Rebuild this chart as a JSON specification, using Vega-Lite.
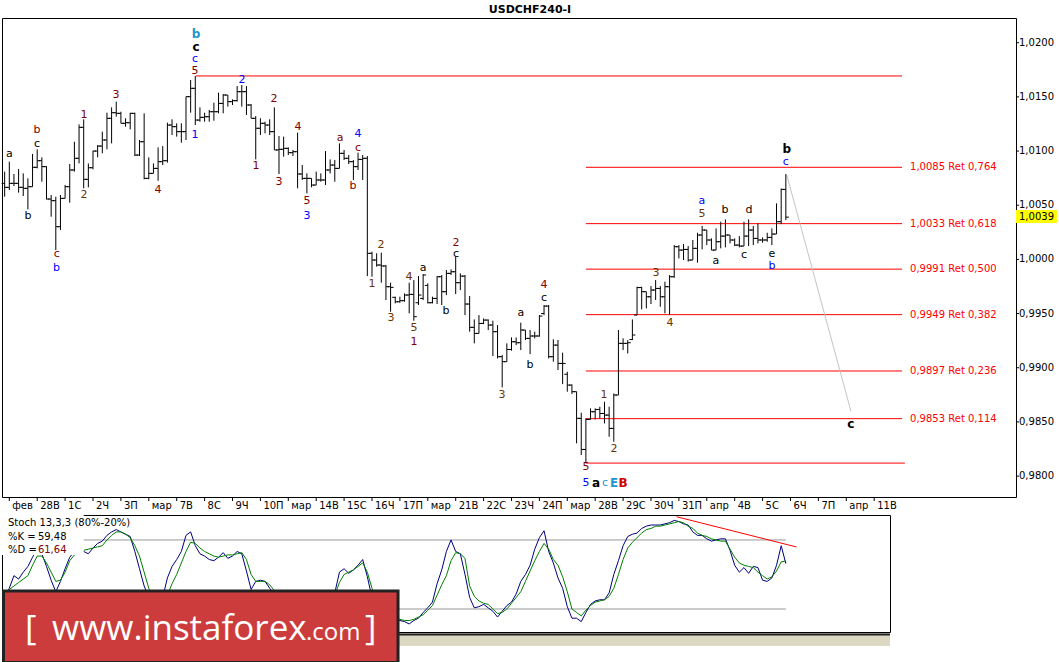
{
"$schema": "https://vega.github.io/schema/vega-lite/v6.json",
"background": "white",
"padding": {"left": 0, "top": 3, "right": 0, "bottom": 0},
"bounds": "flush",
"spacing": 18,
"config": {"view": {"stroke": "black", "strokeWidth": 1}, "font": "DejaVu Sans", "text": {"font": "DejaVu Sans"}},
"datasets": {
"bars": [
{"i":-1,"o":1.00702,"h":1.00810,"l":1.00579,"c":1.00665},
{"i":0,"o":1.00665,"h":1.00902,"l":1.00640,"c":1.00702},
{"i":1,"o":1.00702,"h":1.00788,"l":1.00677,"c":1.00702},
{"i":2,"o":1.00702,"h":1.00834,"l":1.00616,"c":1.00665},
{"i":3,"o":1.00665,"h":1.00794,"l":1.00585,"c":1.00656},
{"i":4,"o":1.00656,"h":1.00748,"l":1.00462,"c":1.00671},
{"i":5,"o":1.00671,"h":1.00973,"l":1.00671,"c":1.00850},
{"i":6,"o":1.00850,"h":1.01016,"l":1.00840,"c":1.00911},
{"i":7,"o":1.00911,"h":1.00942,"l":1.00717,"c":1.00856},
{"i":8,"o":1.00856,"h":1.00860,"l":1.00554,"c":1.00557},
{"i":9,"o":1.00557,"h":1.00594,"l":1.00394,"c":1.00542},
{"i":10,"o":1.00542,"h":1.00579,"l":1.00086,"c":1.00302},
{"i":11,"o":1.00302,"h":1.00594,"l":1.00271,"c":1.00563},
{"i":12,"o":1.00563,"h":1.00686,"l":1.00563,"c":1.00671},
{"i":13,"o":1.00671,"h":1.00880,"l":1.00523,"c":1.00825},
{"i":14,"o":1.00825,"h":1.01086,"l":1.00810,"c":1.00933},
{"i":15,"o":1.00933,"h":1.01246,"l":1.00886,"c":1.01219},
{"i":16,"o":1.01219,"h":1.01293,"l":1.00656,"c":1.00739},
{"i":17,"o":1.00739,"h":1.00886,"l":1.00665,"c":1.00846},
{"i":18,"o":1.00846,"h":1.01003,"l":1.00831,"c":1.01000},
{"i":19,"o":1.01000,"h":1.01056,"l":1.00942,"c":1.01046},
{"i":20,"o":1.01046,"h":1.01179,"l":1.00979,"c":1.01102},
{"i":21,"o":1.01102,"h":1.01354,"l":1.01016,"c":1.01302},
{"i":22,"o":1.01302,"h":1.01403,"l":1.01071,"c":1.01354},
{"i":23,"o":1.01354,"h":1.01456,"l":1.01317,"c":1.01348},
{"i":24,"o":1.01348,"h":1.01363,"l":1.01256,"c":1.01256},
{"i":25,"o":1.01256,"h":1.01302,"l":1.01225,"c":1.01262},
{"i":26,"o":1.01262,"h":1.01354,"l":1.01200,"c":1.01348},
{"i":27,"o":1.01348,"h":1.01354,"l":1.00954,"c":1.00963},
{"i":28,"o":1.00963,"h":1.01102,"l":1.00954,"c":1.01086},
{"i":29,"o":1.01086,"h":1.01348,"l":1.00739,"c":1.00748},
{"i":30,"o":1.00748,"h":1.00942,"l":1.00740,"c":1.00794},
{"i":31,"o":1.00794,"h":1.00886,"l":1.00794,"c":1.00840},
{"i":32,"o":1.00840,"h":1.01034,"l":1.00726,"c":1.00902},
{"i":33,"o":1.00902,"h":1.01046,"l":1.00871,"c":1.00911},
{"i":34,"o":1.00911,"h":1.01262,"l":1.00893,"c":1.01240},
{"i":35,"o":1.01240,"h":1.01293,"l":1.01148,"c":1.01225},
{"i":36,"o":1.01225,"h":1.01256,"l":1.01133,"c":1.01179},
{"i":37,"o":1.01179,"h":1.01256,"l":1.01077,"c":1.01179},
{"i":38,"o":1.01179,"h":1.01502,"l":1.01102,"c":1.01502},
{"i":39,"o":1.01502,"h":1.01656,"l":1.01354,"c":1.01579},
{"i":40,"o":1.01579,"h":1.01693,"l":1.01240,"c":1.01286},
{"i":41,"o":1.01286,"h":1.01403,"l":1.01271,"c":1.01311},
{"i":42,"o":1.01311,"h":1.01354,"l":1.01271,"c":1.01317},
{"i":43,"o":1.01317,"h":1.01379,"l":1.01271,"c":1.01363},
{"i":44,"o":1.01363,"h":1.01446,"l":1.01280,"c":1.01363},
{"i":45,"o":1.01363,"h":1.01539,"l":1.01348,"c":1.01440},
{"i":46,"o":1.01440,"h":1.01526,"l":1.01348,"c":1.01517},
{"i":47,"o":1.01517,"h":1.01517,"l":1.01410,"c":1.01456},
{"i":48,"o":1.01456,"h":1.01477,"l":1.01425,"c":1.01465},
{"i":49,"o":1.01465,"h":1.01600,"l":1.01456,"c":1.01548},
{"i":50,"o":1.01548,"h":1.01610,"l":1.01410,"c":1.01548},
{"i":51,"o":1.01548,"h":1.01600,"l":1.01333,"c":1.01425},
{"i":52,"o":1.01425,"h":1.01434,"l":1.01302,"c":1.01302},
{"i":53,"o":1.01302,"h":1.01323,"l":1.00923,"c":1.01210},
{"i":54,"o":1.01210,"h":1.01302,"l":1.01148,"c":1.01256},
{"i":55,"o":1.01256,"h":1.01271,"l":1.01163,"c":1.01240},
{"i":56,"o":1.01240,"h":1.01293,"l":1.01148,"c":1.01179},
{"i":57,"o":1.01179,"h":1.01403,"l":1.01010,"c":1.01010},
{"i":58,"o":1.01010,"h":1.01139,"l":1.00788,"c":1.01016},
{"i":59,"o":1.01016,"h":1.01133,"l":1.00948,"c":1.01025},
{"i":60,"o":1.01025,"h":1.01034,"l":1.00963,"c":1.00985},
{"i":61,"o":1.00985,"h":1.01010,"l":1.00954,"c":1.00994},
{"i":62,"o":1.00994,"h":1.01170,"l":1.00656,"c":1.00788},
{"i":63,"o":1.00788,"h":1.00871,"l":1.00733,"c":1.00748},
{"i":64,"o":1.00748,"h":1.00794,"l":1.00610,"c":1.00748},
{"i":65,"o":1.00748,"h":1.00748,"l":1.00665,"c":1.00686},
{"i":66,"o":1.00686,"h":1.00810,"l":1.00686,"c":1.00733},
{"i":67,"o":1.00733,"h":1.00794,"l":1.00717,"c":1.00733},
{"i":68,"o":1.00733,"h":1.01000,"l":1.00686,"c":1.00825},
{"i":69,"o":1.00825,"h":1.00923,"l":1.00794,"c":1.00871},
{"i":70,"o":1.00871,"h":1.00917,"l":1.00717,"c":1.00840},
{"i":71,"o":1.00840,"h":1.01071,"l":1.00840,"c":1.00979},
{"i":72,"o":1.00979,"h":1.01010,"l":1.00917,"c":1.00933},
{"i":73,"o":1.00933,"h":1.00963,"l":1.00880,"c":1.00902},
{"i":74,"o":1.00902,"h":1.00917,"l":1.00733,"c":1.00856},
{"i":75,"o":1.00856,"h":1.00985,"l":1.00825,"c":1.00923},
{"i":76,"o":1.00923,"h":1.00963,"l":1.00733,"c":1.00933},
{"i":77,"o":1.00933,"h":1.00954,"l":0.99846,"c":1.00056},
{"i":78,"o":1.00056,"h":1.00071,"l":0.99840,"c":0.99994},
{"i":79,"o":0.99994,"h":1.00056,"l":0.99933,"c":0.99948},
{"i":80,"o":0.99948,"h":1.00062,"l":0.99785,"c":0.99939},
{"i":81,"o":0.99939,"h":0.99948,"l":0.99625,"c":0.99748},
{"i":82,"o":0.99748,"h":0.99785,"l":0.99517,"c":0.99742},
{"i":83,"o":0.99650,"h":0.99656,"l":0.99594,"c":0.99609},
{"i":84,"o":0.99609,"h":0.99656,"l":0.99600,"c":0.99619},
{"i":85,"o":0.99619,"h":0.99686,"l":0.99609,"c":0.99671},
{"i":86,"o":0.99671,"h":0.99785,"l":0.99502,"c":0.99677},
{"i":87,"o":0.99677,"h":0.99809,"l":0.99434,"c":0.99471},
{"i":88,"o":0.99600,"h":0.99846,"l":0.99579,"c":0.99671},
{"i":89,"o":0.99640,"h":0.99865,"l":0.99625,"c":0.99856},
{"i":90,"o":0.99760,"h":0.99779,"l":0.99594,"c":0.99600},
{"i":91,"o":0.99600,"h":0.99656,"l":0.99594,"c":0.99640},
{"i":92,"o":0.99640,"h":0.99846,"l":0.99588,"c":0.99840},
{"i":93,"o":0.99840,"h":0.99856,"l":0.99579,"c":0.99702},
{"i":94,"o":0.99702,"h":0.99902,"l":0.99671,"c":0.99871},
{"i":95,"o":0.99871,"h":0.99908,"l":0.99856,"c":0.99886},
{"i":96,"o":0.99886,"h":1.00025,"l":0.99680,"c":0.99785},
{"i":97,"o":0.99785,"h":0.99871,"l":0.99717,"c":0.99846},
{"i":98,"o":0.99846,"h":0.99856,"l":0.99486,"c":0.99588},
{"i":99,"o":0.99588,"h":0.99662,"l":0.99333,"c":0.99373},
{"i":100,"o":0.99373,"h":0.99446,"l":0.99225,"c":0.99317},
{"i":101,"o":0.99317,"h":0.99486,"l":0.99317,"c":0.99409},
{"i":102,"o":0.99409,"h":0.99455,"l":0.99403,"c":0.99440},
{"i":103,"o":0.99440,"h":0.99446,"l":0.99348,"c":0.99394},
{"i":104,"o":0.99394,"h":0.99434,"l":0.99108,"c":0.99333},
{"i":105,"o":0.99333,"h":0.99394,"l":0.99086,"c":0.99102},
{"i":106,"o":0.99102,"h":0.99117,"l":0.98819,"c":0.99056},
{"i":107,"o":0.99056,"h":0.99225,"l":0.99056,"c":0.99169},
{"i":108,"o":0.99169,"h":0.99280,"l":0.99157,"c":0.99240},
{"i":109,"o":0.99240,"h":0.99280,"l":0.99209,"c":0.99231},
{"i":110,"o":0.99231,"h":0.99416,"l":0.99163,"c":0.99348},
{"i":111,"o":0.99348,"h":0.99348,"l":0.99256,"c":0.99271},
{"i":112,"o":0.99271,"h":0.99348,"l":0.99126,"c":0.99293},
{"i":113,"o":0.99293,"h":0.99333,"l":0.99271,"c":0.99293},
{"i":114,"o":0.99293,"h":0.99486,"l":0.99286,"c":0.99477},
{"i":115,"o":0.99500,"h":0.99579,"l":0.99486,"c":0.99569},
{"i":116,"o":0.99569,"h":0.99579,"l":0.99086,"c":0.99102},
{"i":117,"o":0.99102,"h":0.99262,"l":0.99056,"c":0.99209},
{"i":118,"o":0.99209,"h":0.99256,"l":0.98979,"c":0.99040},
{"i":119,"o":0.99040,"h":0.99139,"l":0.98849,"c":0.99040},
{"i":120,"o":0.98940,"h":0.98963,"l":0.98779,"c":0.98840},
{"i":121,"o":0.98840,"h":0.98846,"l":0.98757,"c":0.98779},
{"i":122,"o":0.98779,"h":0.98779,"l":0.98302,"c":0.98533},
{"i":123,"o":0.98533,"h":0.98585,"l":0.98194,"c":0.98246},
{"i":124,"o":0.98246,"h":0.98533,"l":0.98120,"c":0.98523},
{"i":125,"o":0.98523,"h":0.98625,"l":0.98523,"c":0.98594},
{"i":126,"o":0.98594,"h":0.98625,"l":0.98523,"c":0.98615},
{"i":127,"o":0.98615,"h":0.98640,"l":0.98532,"c":0.98578},
{"i":128,"o":0.98578,"h":0.98686,"l":0.98486,"c":0.98563},
{"i":129,"o":0.98563,"h":0.98640,"l":0.98363,"c":0.98440},
{"i":130,"o":0.98440,"h":0.98763,"l":0.98317,"c":0.98748},
{"i":131,"o":0.98748,"h":0.99348,"l":0.98748,"c":0.99225},
{"i":132,"o":0.99225,"h":0.99271,"l":0.99163,"c":0.99225},
{"i":133,"o":0.99225,"h":0.99255,"l":0.99132,"c":0.99231},
{"i":134,"o":0.99260,"h":0.99446,"l":0.99255,"c":0.99302},
{"i":135,"o":0.99486,"h":0.99748,"l":0.99486,"c":0.99740},
{"i":136,"o":0.99740,"h":0.99748,"l":0.99539,"c":0.99702},
{"i":137,"o":0.99702,"h":0.99702,"l":0.99548,"c":0.99655},
{"i":138,"o":0.99655,"h":0.99754,"l":0.99588,"c":0.99717},
{"i":139,"o":0.99717,"h":0.99809,"l":0.99625,"c":0.99732},
{"i":140,"o":0.99732,"h":0.99754,"l":0.99563,"c":0.99655},
{"i":141,"o":0.99655,"h":0.99794,"l":0.99502,"c":0.99748},
{"i":142,"o":0.99748,"h":0.99855,"l":0.99486,"c":0.99840},
{"i":143,"o":0.99840,"h":1.00132,"l":0.99830,"c":1.00117},
{"i":144,"o":1.00117,"h":1.00132,"l":1.00009,"c":1.00086},
{"i":145,"o":1.00086,"h":1.00142,"l":0.99994,"c":1.00092},
{"i":146,"o":1.00092,"h":1.00123,"l":0.99979,"c":0.99994},
{"i":147,"o":0.99994,"h":1.00179,"l":0.99994,"c":1.00102},
{"i":148,"o":1.00102,"h":1.00246,"l":0.99969,"c":1.00225},
{"i":149,"o":1.00225,"h":1.00308,"l":1.00092,"c":1.00271},
{"i":150,"o":1.00271,"h":1.00271,"l":1.00132,"c":1.00179},
{"i":151,"o":1.00179,"h":1.00194,"l":1.00086,"c":1.00086},
{"i":152,"o":1.00086,"h":1.00286,"l":1.00086,"c":1.00163},
{"i":153,"o":1.00163,"h":1.00348,"l":1.00102,"c":1.00215},
{"i":154,"o":1.00215,"h":1.00369,"l":1.00111,"c":1.00225},
{"i":155,"o":1.00225,"h":1.00225,"l":1.00148,"c":1.00179},
{"i":156,"o":1.00179,"h":1.00194,"l":1.00123,"c":1.00132},
{"i":157,"o":1.00132,"h":1.00215,"l":1.00111,"c":1.00123},
{"i":158,"o":1.00123,"h":1.00348,"l":1.00123,"c":1.00215},
{"i":159,"o":1.00215,"h":1.00369,"l":1.00123,"c":1.00271},
{"i":160,"o":1.00271,"h":1.00308,"l":1.00132,"c":1.00194},
{"i":161,"o":1.00194,"h":1.00332,"l":1.00148,"c":1.00179},
{"i":162,"o":1.00179,"h":1.00203,"l":1.00154,"c":1.00179},
{"i":163,"o":1.00179,"h":1.00246,"l":1.00163,"c":1.00203},
{"i":164,"o":1.00203,"h":1.00286,"l":1.00132,"c":1.00234},
{"i":165,"o":1.00234,"h":1.00517,"l":1.00234,"c":1.00348},
{"i":166,"o":1.00348,"h":1.00655,"l":1.00326,"c":1.00646},
{"i":167,"o":1.00646,"h":1.00788,"l":1.00363,"c":1.00390}
],
"stoch": [
{"i":-1,"k":30,"d":28},{"i":0,"k":38,"d":37},{"i":1,"k":49,"d":40},{"i":2,"k":46,"d":43},{"i":3,"k":52,"d":46},{"i":4,"k":57,"d":49},{"i":5,"k":65,"d":58},{"i":6,"k":72,"d":66},{"i":7,"k":68,"d":66},{"i":8,"k":57,"d":60},{"i":9,"k":45,"d":52},{"i":10,"k":35,"d":44},{"i":11,"k":44,"d":45},{"i":12,"k":55,"d":52},{"i":13,"k":65,"d":62},{"i":14,"k":70,"d":67},{"i":15,"k":74,"d":70},{"i":16,"k":70,"d":71},{"i":17,"k":68,"d":72},{"i":18,"k":73,"d":73},{"i":19,"k":77,"d":74},{"i":20,"k":79,"d":75},{"i":21,"k":84,"d":80},{"i":22,"k":87,"d":84},{"i":23,"k":89,"d":87},{"i":24,"k":87,"d":87},{"i":25,"k":85,"d":85},{"i":26,"k":83,"d":82},{"i":27,"k":70,"d":75},{"i":28,"k":55,"d":66},{"i":29,"k":40,"d":52},{"i":30,"k":30,"d":38},{"i":31,"k":18,"d":28},{"i":32,"k":15,"d":20},{"i":33,"k":30,"d":22},{"i":34,"k":47,"d":32},{"i":35,"k":57,"d":42},{"i":36,"k":63,"d":50},{"i":37,"k":70,"d":60},{"i":38,"k":84,"d":70},{"i":39,"k":87,"d":78},{"i":40,"k":75,"d":77},{"i":41,"k":68,"d":73},{"i":42,"k":66,"d":70},{"i":43,"k":63,"d":68},{"i":44,"k":62,"d":66},{"i":45,"k":65,"d":65},{"i":46,"k":69,"d":66},{"i":47,"k":64,"d":67},{"i":48,"k":66,"d":67},{"i":49,"k":70,"d":68},{"i":50,"k":68,"d":69},{"i":51,"k":53,"d":63},{"i":52,"k":37,"d":50},{"i":53,"k":44,"d":44},{"i":54,"k":45,"d":44},{"i":55,"k":44,"d":44},{"i":56,"k":38,"d":41},{"i":57,"k":33,"d":36},{"i":58,"k":25,"d":30},{"i":59,"k":18,"d":24},{"i":60,"k":14,"d":19},{"i":61,"k":12,"d":15},{"i":62,"k":10,"d":13},{"i":63,"k":8,"d":11},{"i":64,"k":7,"d":10},{"i":65,"k":10,"d":10},{"i":66,"k":14,"d":12},{"i":67,"k":18,"d":15},{"i":68,"k":24,"d":19},{"i":69,"k":30,"d":25},{"i":70,"k":34,"d":32},{"i":71,"k":52,"d":43},{"i":72,"k":55,"d":50},{"i":73,"k":51,"d":52},{"i":74,"k":54,"d":54},{"i":75,"k":58,"d":57},{"i":76,"k":63,"d":60},{"i":77,"k":48,"d":52},{"i":78,"k":30,"d":38},{"i":79,"k":18,"d":28},{"i":80,"k":12,"d":20},{"i":81,"k":9,"d":16},{"i":82,"k":8,"d":13},{"i":83,"k":10,"d":14},{"i":84,"k":10,"d":11},{"i":85,"k":9,"d":10},{"i":86,"k":7,"d":10},{"i":87,"k":10,"d":11},{"i":88,"k":12,"d":13},{"i":89,"k":17,"d":15},{"i":90,"k":21,"d":19},{"i":91,"k":26,"d":23},{"i":92,"k":42,"d":32},{"i":93,"k":54,"d":41},{"i":94,"k":70,"d":49},{"i":95,"k":80,"d":62},{"i":96,"k":70,"d":69},{"i":97,"k":68,"d":68},{"i":98,"k":50,"d":64},{"i":99,"k":30,"d":40},{"i":100,"k":21,"d":31},{"i":101,"k":22,"d":27},{"i":102,"k":24,"d":25},{"i":103,"k":21,"d":24},{"i":104,"k":18,"d":20},{"i":105,"k":13,"d":16},{"i":106,"k":18,"d":17},{"i":107,"k":23,"d":20},{"i":108,"k":26,"d":25},{"i":109,"k":33,"d":30},{"i":110,"k":44,"d":35},{"i":111,"k":50,"d":44},{"i":112,"k":58,"d":53},{"i":113,"k":72,"d":62},{"i":114,"k":82,"d":70},{"i":115,"k":88,"d":77},{"i":116,"k":70,"d":72},{"i":117,"k":60,"d":63},{"i":118,"k":47,"d":58},{"i":119,"k":38,"d":48},{"i":120,"k":22,"d":35},{"i":121,"k":12,"d":20},{"i":122,"k":12,"d":17},{"i":123,"k":9,"d":14},{"i":124,"k":17,"d":19},{"i":125,"k":24,"d":23},{"i":126,"k":27,"d":26},{"i":127,"k":28,"d":27},{"i":128,"k":28,"d":28},{"i":129,"k":34,"d":31},{"i":130,"k":50,"d":38},{"i":131,"k":62,"d":50},{"i":132,"k":75,"d":63},{"i":133,"k":83,"d":73},{"i":134,"k":85,"d":78},{"i":135,"k":86,"d":82},{"i":136,"k":90,"d":86},{"i":137,"k":92,"d":89},{"i":138,"k":93,"d":90},{"i":139,"k":93,"d":92},{"i":140,"k":93,"d":92},{"i":141,"k":94,"d":93},{"i":142,"k":95,"d":94},{"i":143,"k":97,"d":95},{"i":144,"k":96,"d":96},{"i":145,"k":94,"d":95},{"i":146,"k":93,"d":92},{"i":147,"k":87,"d":90},{"i":148,"k":84,"d":86},{"i":149,"k":84,"d":84},{"i":150,"k":81,"d":83},{"i":151,"k":79,"d":81},{"i":152,"k":80,"d":80},{"i":153,"k":81,"d":79},{"i":154,"k":81,"d":79},{"i":155,"k":71,"d":72},{"i":156,"k":58,"d":65},{"i":157,"k":52,"d":60},{"i":158,"k":56,"d":58},{"i":159,"k":51,"d":57},{"i":160,"k":57,"d":56},{"i":161,"k":56,"d":52},{"i":162,"k":45,"d":49},{"i":163,"k":44,"d":46},{"i":164,"k":47,"d":48},{"i":165,"k":58,"d":53},{"i":166,"k":75,"d":61},{"i":167,"k":59.48,"d":61.64}
],
"labels": [
{"i":0,"p":1.00973,"t":"a","g":"k"},
{"i":5.96,"p":1.01195,"t":"b","g":"m"},
{"i":5.96,"p":1.01064,"t":"c","g":"k"},
{"i":4.02,"p":1.004,"t":"b","g":"k"},
{"i":10.19,"p":1.0005,"t":"c","g":"m"},
{"i":10.15,"p":0.9992,"t":"b","g":"b"},
{"i":16.06,"p":1.01333,"t":"1","g":"m"},
{"i":16.06,"p":1.00594,"t":"2","g":"o"},
{"i":22.95,"p":1.01517,"t":"3","g":"m"},
{"i":31.98,"p":1.0064,"t":"4","g":"m"},
{"i":40.15,"p":1.02081,"t":"b","g":"lb","bold":true},
{"i":40.15,"p":1.01962,"t":"c","g":"k","bold":true},
{"i":39.94,"p":1.01852,"t":"c","g":"b"},
{"i":39.94,"p":1.01742,"t":"5","g":"m"},
{"i":39.94,"p":1.01148,"t":"1","g":"b"},
{"i":50.04,"p":1.01656,"t":"2","g":"b"},
{"i":56.92,"p":1.0148,"t":"2","g":"m"},
{"i":53.05,"p":1.00862,"t":"1","g":"m"},
{"i":58.0,"p":1.00714,"t":"3","g":"m"},
{"i":62.09,"p":1.01222,"t":"4","g":"m"},
{"i":64.02,"p":1.00535,"t":"5","g":"m"},
{"i":64.02,"p":1.00404,"t":"3","g":"b"},
{"i":71.12,"p":1.0112,"t":"a","g":"m"},
{"i":74.99,"p":1.01158,"t":"4","g":"b"},
{"i":74.99,"p":1.01028,"t":"c","g":"m"},
{"i":73.91,"p":1.00677,"t":"b","g":"m"},
{"i":79.93,"p":1.00133,"t":"2","g":"o"},
{"i":77.99,"p":0.99773,"t":"1","g":"o"},
{"i":82.09,"p":0.99459,"t":"3","g":"o"},
{"i":85.96,"p":0.99837,"t":"4","g":"o"},
{"i":87.04,"p":0.99363,"t":"5","g":"o"},
{"i":87.04,"p":0.99241,"t":"1","g":"m"},
{"i":88.97,"p":0.9992,"t":"a","g":"k"},
{"i":93.91,"p":0.99523,"t":"b","g":"k"},
{"i":96.06,"p":1.00151,"t":"2","g":"m"},
{"i":96.06,"p":1.0005,"t":"c","g":"k"},
{"i":110.04,"p":0.99505,"t":"a","g":"k"},
{"i":111.98,"p":0.99025,"t":"b","g":"k"},
{"i":114.99,"p":0.99764,"t":"4","g":"m"},
{"i":114.99,"p":0.99643,"t":"c","g":"k"},
{"i":105.95,"p":0.98748,"t":"3","g":"o"},
{"i":124.02,"p":0.98084,"t":"5","g":"m"},
{"i":124.02,"p":0.97936,"t":"5","g":"b"},
{"i":126.17,"p":0.97936,"t":"a","g":"k","bold":true},
{"i":128.11,"p":0.97936,"t":"c","g":"lb"},
{"i":130.04,"p":0.97936,"t":"E","g":"lb","bold":true},
{"i":131.98,"p":0.97936,"t":"B","g":"r","bold":true},
{"i":127.89,"p":0.98748,"t":"1","g":"o"},
{"i":130.04,"p":0.9825,"t":"2","g":"o"},
{"i":139.08,"p":0.99874,"t":"3","g":"o"},
{"i":142.09,"p":0.99413,"t":"4","g":"o"},
{"i":148.97,"p":1.00535,"t":"a","g":"b"},
{"i":148.97,"p":1.00422,"t":"5","g":"o"},
{"i":153.91,"p":1.00456,"t":"b","g":"k"},
{"i":159.07,"p":1.00456,"t":"d","g":"k"},
{"i":151.98,"p":0.99985,"t":"a","g":"k"},
{"i":158.0,"p":1.0004,"t":"c","g":"k"},
{"i":164.02,"p":1.0005,"t":"e","g":"k"},
{"i":164.02,"p":0.99935,"t":"b","g":"b"},
{"i":167.2,"p":1.0102,"t":"b","g":"k","bold":true},
{"i":167.0,"p":1.00899,"t":"c","g":"b"},
{"i":181.0,"p":0.98481,"t":"c","g":"k","bold":true}
],
"days": [
{"i":0,"t":"фев"},{"i":6,"t":"28В"},{"i":12,"t":"1С"},{"i":18,"t":"2Ч"},{"i":24,"t":"3П"},{"i":30,"t":"мар"},{"i":36,"t":"7В"},{"i":42,"t":"8С"},{"i":48,"t":"9Ч"},{"i":54,"t":"10П"},{"i":60,"t":"мар"},{"i":66,"t":"14В"},{"i":72,"t":"15С"},{"i":78,"t":"16Ч"},{"i":84,"t":"17П"},{"i":90,"t":"мар"},{"i":96,"t":"21В"},{"i":102,"t":"22С"},{"i":108,"t":"23Ч"},{"i":114,"t":"24П"},{"i":120,"t":"мар"},{"i":126,"t":"28В"},{"i":132,"t":"29С"},{"i":138,"t":"30Ч"},{"i":144,"t":"31П"},{"i":150,"t":"апр"},{"i":156,"t":"4В"},{"i":162,"t":"5С"},{"i":168,"t":"6Ч"},{"i":174,"t":"7П"},{"i":180,"t":"апр"},{"i":186,"t":"11В"}
],
"prices": [
{"p":0.98,"t":"0,9800"},{"p":0.985,"t":"0,9850"},{"p":0.99,"t":"0,9900"},{"p":0.995,"t":"0,9950"},{"p":1.0,"t":"1,0000"},{"p":1.005,"t":"1,0050"},{"p":1.01,"t":"1,0100"},{"p":1.015,"t":"1,0150"},{"p":1.02,"t":"1,0200"}
],
"fib": [
{"i":40.15,"i2":192,"p":1.01693,"t":""},
{"i":124,"i2":192,"p":1.0085,"t":"1,0085 Ret 0,764"},
{"i":124,"i2":192,"p":1.0033,"t":"1,0033 Ret 0,618"},
{"i":124,"i2":192,"p":0.9991,"t":"0,9991 Ret 0,500"},
{"i":124,"i2":192,"p":0.9949,"t":"0,9949 Ret 0,382"},
{"i":124,"i2":192,"p":0.9897,"t":"0,9897 Ret 0,236"},
{"i":124,"i2":192,"p":0.9853,"t":"0,9853 Ret 0,114"},
{"i":124,"i2":192.6,"p":0.9812,"t":""}
],
"proj": [{"i":167.2,"i2":181.0,"p":1.00779,"p2":0.986}],
"cur": [{"i":216.5,"i2":225.3,"p":1.00456,"p2":1.00336,"pc":1.0039,"t":"1,0039"}],
"levels": [{"i":15.85,"i2":167,"v":80},{"i":15.85,"i2":167,"v":20}],
"trend": [{"i":143.5,"i2":169.3,"v":100.2,"v2":73.9}],
"box": [{"i":-1.57,"i2":16,"v":67,"v2":101.7}],
"stext": [
{"i":-0.28,"v":94.8,"t":"Stoch 13,3,3 (80%-20%)","g":"k"},
{"i":-0.28,"v":83.0,"t":"%K =","g":"k"},
{"i":6.15,"v":83.0,"t":"59,48","g":"K"},
{"i":-0.28,"v":71.7,"t":"%D =","g":"k"},
{"i":6.15,"v":71.7,"t":"61,64","g":"D"}
],
"band": [{"i":-1.57,"i2":189.4,"v":-0.9,"v2":-12.2,"vl":-2.2}],
"logo": [{"i":-1.25,"i2":83.6,"v":35.65,"v2":-26.5}],
"logotext": [
{"i":3.4,"v":-6.96,"t":"[","big":true},
{"i":9.2,"v":-6.96,"t":"www.instaforex","big":true},
{"i":63.8,"v":-6.96,"t":".com","big":false},
{"i":76.5,"v":-6.96,"t":"]","big":true}
]
},
"vconcat": [
{
"width": 1014, "height": 479,
"title": {"text": "USDCHF240-I", "fontSize": 11, "fontWeight": "bold", "font": "DejaVu Sans", "color": "black", "anchor": "middle", "dx": 21, "offset": 3},
"layer": [
{"data": {"name": "fib"}, "mark": {"type": "rule", "color": "#ff0000", "strokeWidth": 1, "clip": false},
 "encoding": {"x": {"field": "i", "type": "quantitative", "scale": {"domain": [-1.57, 216.5], "nice": false, "zero": false}, "axis": null},
  "x2": {"field": "i2"},
  "y": {"field": "p", "type": "quantitative", "scale": {"domain": [0.97807, 1.02228], "nice": false, "zero": false}, "axis": null}}},
{"data": {"name": "fib"}, "transform": [{"filter": "datum.t != ''"}], "mark": {"type": "text", "align": "left", "baseline": "middle", "dx": 8, "color": "#ff0000", "fontSize": 10, "clip": false},
 "encoding": {"x": {"field": "i2", "type": "quantitative", "scale": {"domain": [-1.57, 216.5], "nice": false, "zero": false}, "axis": null},
  "y": {"field": "p", "type": "quantitative", "scale": {"domain": [0.97807, 1.02228], "nice": false, "zero": false}, "axis": null},
  "text": {"field": "t"}}},
{"data": {"name": "proj"}, "mark": {"type": "rule", "color": "#c4c4c4", "strokeWidth": 1, "clip": false},
 "encoding": {"x": {"field": "i", "type": "quantitative", "scale": {"domain": [-1.57, 216.5], "nice": false, "zero": false}, "axis": null},
  "x2": {"field": "i2"},
  "y": {"field": "p", "type": "quantitative", "scale": {"domain": [0.97807, 1.02228], "nice": false, "zero": false}, "axis": null},
  "y2": {"field": "p2"}}},
{"data": {"name": "bars"}, "mark": {"type": "rule", "color": "black", "strokeWidth": 1},
 "encoding": {"x": {"field": "i", "type": "quantitative", "scale": {"domain": [-1.57, 216.5], "nice": false, "zero": false}, "axis": null},
  "y": {"field": "l", "type": "quantitative", "scale": {"domain": [0.97807, 1.02228], "nice": false, "zero": false}, "axis": null},
  "y2": {"field": "h"}}},
{"data": {"name": "bars"}, "mark": {"type": "tick", "orient": "horizontal", "size": 3, "thickness": 1, "xOffset": -1.5, "color": "black", "opacity": 1},
 "encoding": {"x": {"field": "i", "type": "quantitative", "scale": {"domain": [-1.57, 216.5], "nice": false, "zero": false}, "axis": null},
  "y": {"field": "o", "type": "quantitative", "scale": {"domain": [0.97807, 1.02228], "nice": false, "zero": false}, "axis": null}}},
{"data": {"name": "bars"}, "mark": {"type": "tick", "orient": "horizontal", "size": 3, "thickness": 1, "xOffset": 1.5, "color": "black", "opacity": 1},
 "encoding": {"x": {"field": "i", "type": "quantitative", "scale": {"domain": [-1.57, 216.5], "nice": false, "zero": false}, "axis": null},
  "y": {"field": "c", "type": "quantitative", "scale": {"domain": [0.97807, 1.02228], "nice": false, "zero": false}, "axis": null}}},
{"data": {"name": "days"}, "mark": {"type": "tick", "orient": "vertical", "size": 4, "thickness": 1, "yOffset": 2, "color": "black", "opacity": 1, "clip": false},
 "encoding": {"x": {"field": "i", "type": "quantitative", "scale": {"domain": [-1.57, 216.5], "nice": false, "zero": false}, "axis": null},
  "y": {"datum": 0.97807, "type": "quantitative", "scale": {"domain": [0.97807, 1.02228], "nice": false, "zero": false}, "axis": null}}},
{"data": {"name": "days"}, "mark": {"type": "text", "align": "left", "baseline": "middle", "dx": 3, "dy": 9, "fontSize": 10, "color": "black", "clip": false},
 "encoding": {"x": {"field": "i", "type": "quantitative", "scale": {"domain": [-1.57, 216.5], "nice": false, "zero": false}, "axis": null},
  "y": {"datum": 0.97807, "type": "quantitative", "scale": {"domain": [0.97807, 1.02228], "nice": false, "zero": false}, "axis": null},
  "text": {"field": "t"}}},
{"data": {"name": "prices"}, "mark": {"type": "tick", "orient": "horizontal", "size": 3, "thickness": 1, "xOffset": 1.5, "color": "black", "opacity": 1, "clip": false},
 "encoding": {"x": {"datum": 216.5, "type": "quantitative", "scale": {"domain": [-1.57, 216.5], "nice": false, "zero": false}, "axis": null},
  "y": {"field": "p", "type": "quantitative", "scale": {"domain": [0.97807, 1.02228], "nice": false, "zero": false}, "axis": null}}},
{"data": {"name": "prices"}, "mark": {"type": "text", "align": "left", "baseline": "middle", "dx": 3, "fontSize": 10, "color": "black", "clip": false},
 "encoding": {"x": {"datum": 216.5, "type": "quantitative", "scale": {"domain": [-1.57, 216.5], "nice": false, "zero": false}, "axis": null},
  "y": {"field": "p", "type": "quantitative", "scale": {"domain": [0.97807, 1.02228], "nice": false, "zero": false}, "axis": null},
  "text": {"field": "t"}}},
{"data": {"name": "labels"}, "transform": [{"filter": "!datum.bold"}], "mark": {"type": "text", "align": "center", "baseline": "middle", "fontSize": 11, "clip": false},
 "encoding": {"x": {"field": "i", "type": "quantitative", "scale": {"domain": [-1.57, 216.5], "nice": false, "zero": false}, "axis": null},
  "y": {"field": "p", "type": "quantitative", "scale": {"domain": [0.97807, 1.02228], "nice": false, "zero": false}, "axis": null},
  "text": {"field": "t"},
  "color": {"field": "g", "type": "nominal", "scale": {"domain": ["k","m","o","b","lb","r"], "range": ["#000000","#800000","#6b3300","#0000ff","#1e96d2","#cc0000"]}, "legend": null}}},
{"data": {"name": "labels"}, "transform": [{"filter": "datum.bold"}], "mark": {"type": "text", "align": "center", "baseline": "middle", "fontSize": 12, "fontWeight": "bold", "clip": false},
 "encoding": {"x": {"field": "i", "type": "quantitative", "scale": {"domain": [-1.57, 216.5], "nice": false, "zero": false}, "axis": null},
  "y": {"field": "p", "type": "quantitative", "scale": {"domain": [0.97807, 1.02228], "nice": false, "zero": false}, "axis": null},
  "text": {"field": "t"},
  "color": {"field": "g", "type": "nominal", "scale": {"domain": ["k","m","o","b","lb","r"], "range": ["#000000","#800000","#6b3300","#0000ff","#1e96d2","#cc0000"]}, "legend": null}}},
{"data": {"name": "cur"}, "mark": {"type": "rect", "color": "#ffff00", "clip": false},
 "encoding": {"x": {"field": "i", "type": "quantitative", "scale": {"domain": [-1.57, 216.5], "nice": false, "zero": false}, "axis": null},
  "x2": {"field": "i2"},
  "y": {"field": "p", "type": "quantitative", "scale": {"domain": [0.97807, 1.02228], "nice": false, "zero": false}, "axis": null},
  "y2": {"field": "p2"}}},
{"data": {"name": "cur"}, "mark": {"type": "text", "align": "left", "baseline": "middle", "dx": 3, "fontSize": 10, "color": "black", "clip": false},
 "encoding": {"x": {"field": "i", "type": "quantitative", "scale": {"domain": [-1.57, 216.5], "nice": false, "zero": false}, "axis": null},
  "y": {"field": "pc", "type": "quantitative", "scale": {"domain": [0.97807, 1.02228], "nice": false, "zero": false}, "axis": null},
  "text": {"field": "t"}}}
]
},
{
"width": 888, "height": 117,
"layer": [
{"data": {"name": "levels"}, "mark": {"type": "rule", "color": "#999999", "strokeWidth": 1},
 "encoding": {"x": {"field": "i", "type": "quantitative", "scale": {"domain": [-1.57, 189.4], "nice": false, "zero": false}, "axis": null},
  "x2": {"field": "i2"},
  "y": {"field": "v", "type": "quantitative", "scale": {"domain": [0, 101.7], "nice": false, "zero": false}, "axis": null}}},
{"data": {"name": "stoch"}, "mark": {"type": "line", "color": "#000080", "strokeWidth": 1},
 "encoding": {"x": {"field": "i", "type": "quantitative", "scale": {"domain": [-1.57, 189.4], "nice": false, "zero": false}, "axis": null},
  "y": {"field": "k", "type": "quantitative", "scale": {"domain": [0, 101.7], "nice": false, "zero": false}, "axis": null}}},
{"data": {"name": "stoch"}, "mark": {"type": "line", "color": "#008000", "strokeWidth": 1},
 "encoding": {"x": {"field": "i", "type": "quantitative", "scale": {"domain": [-1.57, 189.4], "nice": false, "zero": false}, "axis": null},
  "y": {"field": "d", "type": "quantitative", "scale": {"domain": [0, 101.7], "nice": false, "zero": false}, "axis": null}}},
{"data": {"name": "box"}, "mark": {"type": "rect", "color": "white"},
 "encoding": {"x": {"field": "i", "type": "quantitative", "scale": {"domain": [-1.57, 189.4], "nice": false, "zero": false}, "axis": null},
  "x2": {"field": "i2"},
  "y": {"field": "v", "type": "quantitative", "scale": {"domain": [0, 101.7], "nice": false, "zero": false}, "axis": null},
  "y2": {"field": "v2"}}},
{"data": {"name": "stext"}, "mark": {"type": "text", "align": "left", "baseline": "middle", "fontSize": 10},
 "encoding": {"x": {"field": "i", "type": "quantitative", "scale": {"domain": [-1.57, 189.4], "nice": false, "zero": false}, "axis": null},
  "y": {"field": "v", "type": "quantitative", "scale": {"domain": [0, 101.7], "nice": false, "zero": false}, "axis": null},
  "text": {"field": "t"},
  "color": {"field": "g", "type": "nominal", "scale": {"domain": ["k","K","D"], "range": ["#000000","#000080","#008000"]}, "legend": null}}},
{"data": {"name": "trend"}, "mark": {"type": "rule", "color": "#ff0000", "strokeWidth": 1, "clip": false},
 "encoding": {"x": {"field": "i", "type": "quantitative", "scale": {"domain": [-1.57, 189.4], "nice": false, "zero": false}, "axis": null},
  "x2": {"field": "i2"},
  "y": {"field": "v", "type": "quantitative", "scale": {"domain": [0, 101.7], "nice": false, "zero": false}, "axis": null},
  "y2": {"field": "v2"}}},
{"data": {"name": "band"}, "mark": {"type": "rect", "color": "#dcd8c2", "clip": false},
 "encoding": {"x": {"field": "i", "type": "quantitative", "scale": {"domain": [-1.57, 189.4], "nice": false, "zero": false}, "axis": null},
  "x2": {"field": "i2"},
  "y": {"field": "v", "type": "quantitative", "scale": {"domain": [0, 101.7], "nice": false, "zero": false}, "axis": null},
  "y2": {"field": "v2"}}},
{"data": {"name": "band"}, "mark": {"type": "rule", "color": "#222222", "strokeWidth": 2, "clip": false},
 "encoding": {"x": {"field": "i", "type": "quantitative", "scale": {"domain": [-1.57, 189.4], "nice": false, "zero": false}, "axis": null},
  "x2": {"field": "i2"},
  "y": {"field": "vl", "type": "quantitative", "scale": {"domain": [0, 101.7], "nice": false, "zero": false}, "axis": null}}},
{"data": {"name": "logo"}, "mark": {"type": "rect", "fill": "#cd3c3c", "stroke": "#222222", "strokeWidth": 3, "clip": false},
 "encoding": {"x": {"field": "i", "type": "quantitative", "scale": {"domain": [-1.57, 189.4], "nice": false, "zero": false}, "axis": null},
  "x2": {"field": "i2"},
  "y": {"field": "v", "type": "quantitative", "scale": {"domain": [0, 101.7], "nice": false, "zero": false}, "axis": null},
  "y2": {"field": "v2"}}},
{"data": {"name": "logotext"}, "transform": [{"filter": "datum.big"}], "mark": {"type": "text", "align": "left", "baseline": "alphabetic", "font": "Open Sans", "fontSize": 35, "color": "white", "clip": false},
 "encoding": {"x": {"field": "i", "type": "quantitative", "scale": {"domain": [-1.57, 189.4], "nice": false, "zero": false}, "axis": null},
  "y": {"field": "v", "type": "quantitative", "scale": {"domain": [0, 101.7], "nice": false, "zero": false}, "axis": null},
  "text": {"field": "t"}}},
{"data": {"name": "logotext"}, "transform": [{"filter": "!datum.big"}], "mark": {"type": "text", "align": "left", "baseline": "alphabetic", "font": "Open Sans", "fontSize": 24, "color": "white", "clip": false},
 "encoding": {"x": {"field": "i", "type": "quantitative", "scale": {"domain": [-1.57, 189.4], "nice": false, "zero": false}, "axis": null},
  "y": {"field": "v", "type": "quantitative", "scale": {"domain": [0, 101.7], "nice": false, "zero": false}, "axis": null},
  "text": {"field": "t"}}}
]
}
]
}
